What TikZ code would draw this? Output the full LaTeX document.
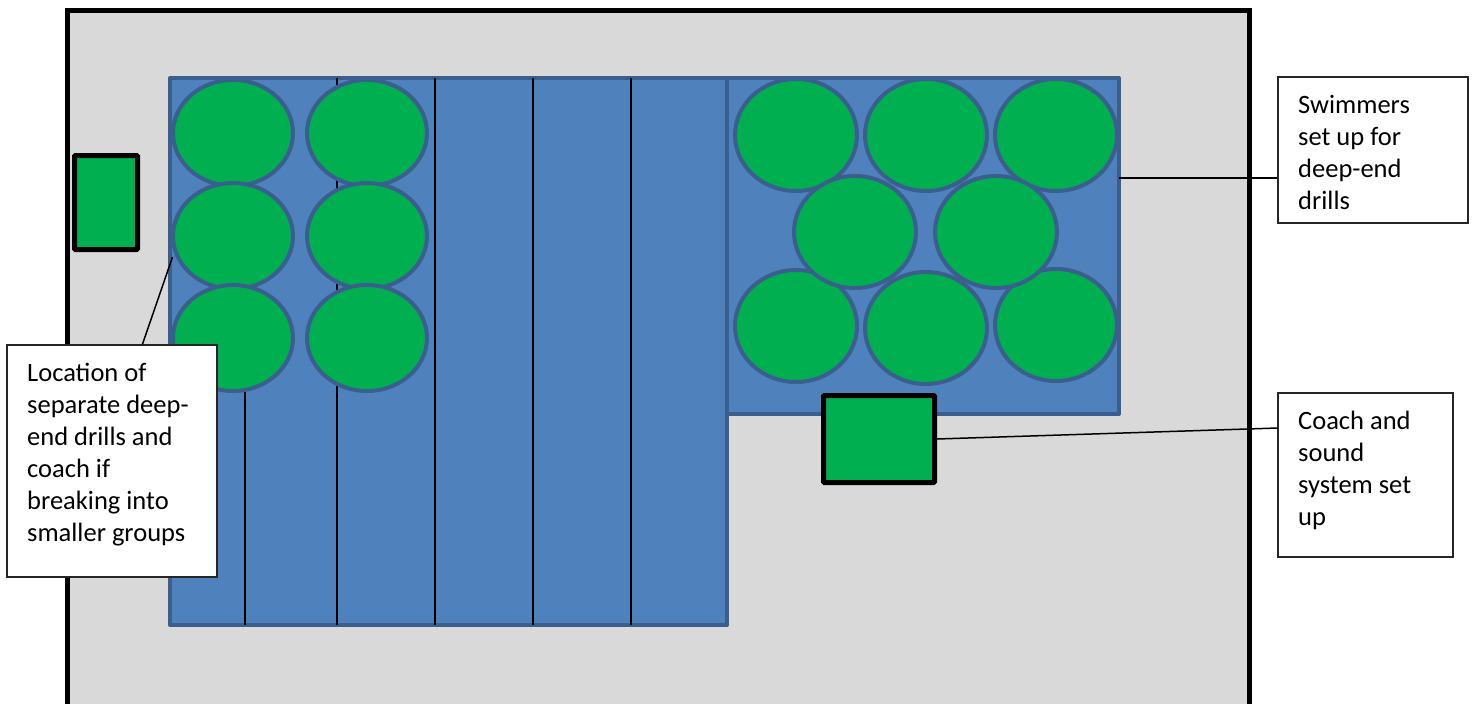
\documentclass[tikz,border=0pt]{standalone}
\usepackage{fontspec}
\setmainfont{Carlito}
\definecolor{deckgray}{HTML}{D9D9D9}
\definecolor{poolblue}{HTML}{4F81BD}
\definecolor{pooledge}{HTML}{3A5F8E}
\definecolor{swimgreen}{HTML}{00B050}
\tikzset{
  deck/.style={fill=deckgray, draw=black, line width=5pt},
  pool/.style={fill=poolblue, draw=pooledge, line width=4pt, line join=round},
  lane/.style={draw=black, line width=1.5pt},
  swimmer/.style={fill=swimgreen, draw=pooledge, line width=4pt},
  coachbox/.style={fill=swimgreen, draw=black, line width=5pt, rounded corners=1pt, inner sep=0pt},
  callout/.style={fill=white, draw=black!85, line width=1.2pt, inner sep=0pt},
  callouttext/.style={font=\fontsize{26.5}{32}\selectfont, align=left, inner sep=0pt, anchor=north west},
  conn/.style={draw=black, line width=1.5pt}
}
\begin{document}
\begin{tikzpicture}[x=1pt,y=-1pt]
\useasboundingbox (0,0) rectangle (1478,704);
\clip (0,0) rectangle (1478,704);
% deck
\draw[deck] (67.5,10) rectangle (1249,740);
% pool
\draw[pool] (170,78) rectangle (727,625);
\draw[pool] (727,78) rectangle (1119,414);
\draw[lane] (245,120) -- (245,625);
\foreach \x in {337,435,533,631} \draw[lane] (\x,78) -- (\x,625);
% swimmers in lanes
\foreach \cy in {133,236,338} {
  \foreach \cx in {233,367} {
    \draw[swimmer] (\cx,\cy) ellipse [x radius=60, y radius=53];
  }
}
% swimmers in deep end
\foreach \cx/\cy in {796/135,926/135,1056/135,796/326,926/328,1056/325,855/232,996/232} {
  \draw[swimmer] (\cx,\cy) ellipse [x radius=61, y radius=56];
}
% coach positions
\node[coachbox, minimum width=63pt, minimum height=94pt] (altcoach) at (106,202.5) {};
\node[coachbox, minimum width=111pt, minimum height=87pt] (coach) at (879,439) {};
% callouts
\node[callout, minimum width=210pt, minimum height=232pt] (lbox) at (112,461) {};
\node[callouttext] (ltext) at (27,358.6) {\strut Location of\\separate deep-\\end drills and\\coach if\\breaking into\\smaller groups};
\node[callout, minimum width=190pt, minimum height=146pt] (trbox) at (1373,150) {};
\node[callouttext] (trtext) at (1298,90.6) {\strut Swimmers\\set up for\\deep-end\\drills};
\node[callout, minimum width=175pt, minimum height=164pt] (brbox) at (1365.5,475) {};
\node[callouttext] (brtext) at (1298,406.6) {\strut Coach and\\sound\\system set\\up};
% connectors
\coordinate (lp) at (172.5,257);
\draw[conn] (lp) -- ([xshift=136pt]lbox.north west);
\coordinate (pr) at (1119,178);
\draw[conn] (pr) -- (pr -| trbox.west);
\coordinate (br) at (1278,428);
\draw[conn] (coach.east) -- (br);
\end{tikzpicture}
\end{document}
